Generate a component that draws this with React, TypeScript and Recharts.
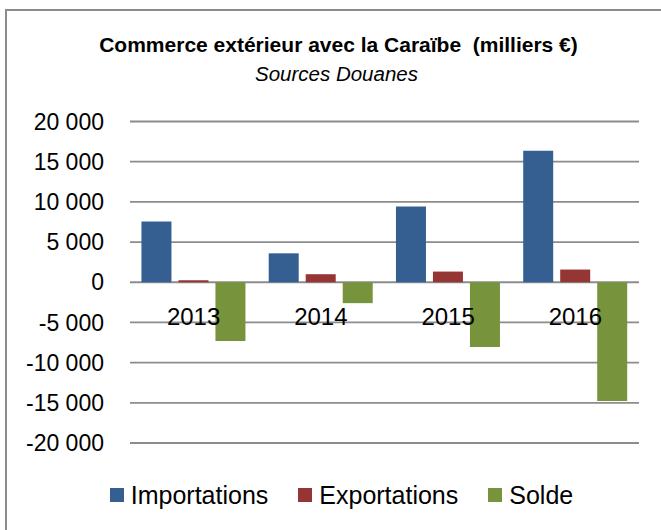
import { Bar, BarChart, CartesianGrid, Legend, XAxis, YAxis } from "recharts";

const years = ["2013", "2014", "2015", "2016"];
const importations = [7550, 3600, 9420, 16350];
const exportations = [250, 1000, 1330, 1580];
const solde = [-7300, -2600, -8050, -14770];
const yTicks = [-20000, -15000, -10000, -5000, 0, 5000, 10000, 15000, 20000];

const series = [
  { key: "imp", name: "Importations", color: "#365F91" },
  { key: "exp", name: "Exportations", color: "#963634" },
  { key: "sol", name: "Solde", color: "#77933C" },
];

const data = years.map((y, i) => ({
  year: y,
  imp: importations[i],
  exp: exportations[i],
  sol: solde[i],
}));

const W = 661;
const H = 530;
const TOP = 121.5;
const BOTTOM_GAP = 87; // plot bottom at 443
const LEGEND_H = 50;
const XAXIS_H = 27;
const ZERO_Y = (TOP + (H - BOTTOM_GAP)) / 2;
const FONT = "'Liberation Sans', Arial, sans-serif";

const fmt = (v: number) => {
  const s = Math.abs(v).toString().replace(/\B(?=(\d{3})+(?!\d))/g, " ");
  return v < 0 ? "-" + s : s;
};

// Excel puts category labels next to the zero line, not at the bottom
const YearTick = (props: any) => {
  const { x, payload } = props;
  return (
    <text x={x} y={ZERO_Y + 36} textAnchor="middle" dominantBaseline="middle" fontSize={24} fill="#000" fontFamily={FONT}>
      {payload.value}
    </text>
  );
};

const LegendBox = () => (
  <div style={{ display: "flex", justifyContent: "center", alignItems: "center", height: LEGEND_H, fontFamily: FONT, fontSize: 25, paddingLeft: 44 }}>
    {series.map((s, i) => (
      <div key={s.key} style={{ display: "flex", alignItems: "center", marginRight: i < series.length - 1 ? 30 : 0 }}>
        <span style={{ width: 14, height: 14, background: s.color, display: "inline-block", marginRight: 7 }} />
        <span>{s.name}</span>
      </div>
    ))}
  </div>
);

export default function App() {
  return (
    <div style={{ position: "absolute", left: 0, top: 0, width: W, height: H, background: "#fff", overflow: "hidden" }}>
      <div style={{ position: "absolute", left: 5, top: 9, width: 700, height: 600, borderLeft: "2px solid #8c8c8c", borderTop: "2px solid #8c8c8c" }} />
      <div style={{ position: "absolute", left: 0, width: 677, top: 33, textAlign: "center", fontFamily: FONT, fontWeight: "bold", fontSize: 21 }}>
        Commerce extérieur avec la Caraïbe&nbsp; (milliers €)
      </div>
      <div style={{ position: "absolute", left: 0, width: 673, top: 62, textAlign: "center", fontFamily: FONT, fontStyle: "italic", fontSize: 20.5 }}>
        Sources Douanes
      </div>
      <div style={{ position: "absolute", left: 0, top: 0 }}>
        <BarChart
          width={W}
          height={H}
          data={data}
          margin={{ top: TOP, right: 22, left: 0, bottom: BOTTOM_GAP - LEGEND_H - XAXIS_H }}
          barCategoryGap="9%"
          barGap={7}
        >
          <CartesianGrid vertical={false} stroke="#8c8c8c" strokeWidth={1.8} />
          <XAxis dataKey="year" axisLine={false} tickLine={false} height={XAXIS_H} tick={<YearTick />} interval={0} />
          <YAxis
            domain={[-20000, 20000]}
            ticks={yTicks}
            tickFormatter={fmt}
            width={130}
            axisLine={false}
            tickLine={false}
            tickMargin={20}
            tick={{ fontSize: 23, fill: "#000", fontFamily: FONT }}
          />
          <Legend verticalAlign="bottom" height={LEGEND_H} content={<LegendBox />} />
          {series.map((s) => (
            <Bar key={s.key} dataKey={s.key} name={s.name} fill={s.color} isAnimationActive={false} />
          ))}
        </BarChart>
      </div>
    </div>
  );
}
